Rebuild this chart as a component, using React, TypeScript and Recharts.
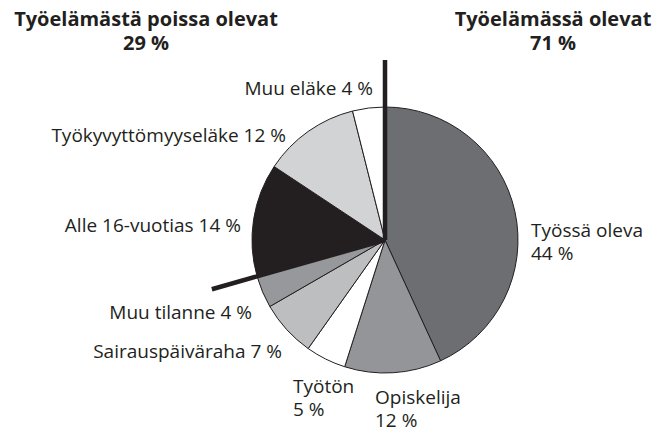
import { PieChart, Pie, Cell } from 'recharts';

const categories = ['Työssä oleva', 'Opiskelija', 'Työtön', 'Sairauspäiväraha', 'Muu tilanne', 'Alle 16-vuotias', 'Työkyvyttömyyseläke', 'Muu eläke'];
const shares = [44, 12, 5, 7, 4, 14, 12, 4];
const groupTitles = ['Työelämästä poissa olevat', 'Työelämässä olevat'];
const groupShares = [29, 71];
const workingSlices = 5; // first five slices = in working life

const fills = ['#6d6e71', '#939598', '#ffffff', '#bcbec0', '#97989b', '#231f20', '#d1d3d4', '#ffffff'];

// label placement relative to pie centre
const labelLayout = [
  { dx: 146, dy: -10, anchor: 'start', split: true },
  { dx: -10, dy: 157, anchor: 'start', split: true },
  { dx: -92, dy: 146, anchor: 'start', split: true },
  { dx: -103, dy: 111, anchor: 'end', split: false },
  { dx: -133, dy: 72, anchor: 'end', split: false },
  { dx: -144, dy: -15, anchor: 'end', split: false },
  { dx: -99, dy: -105, anchor: 'end', split: false },
  { dx: -12, dy: -152, anchor: 'end', split: false },
];

const data = categories.map((name, i) => ({ name, value: shares[i] }));

const W = 657;
const H = 433;
const CX = 385;
const CY = 240;
const R = 133;
const INK = '#231f20';
const FONT = '"Open Sans", sans-serif';
const LABEL_SIZE = 19;

const renderLabel = (props: any) => {
  const { cx, cy, index } = props;
  const l = labelLayout[index];
  const x = cx + l.dx;
  const y = cy + l.dy;
  const common = { textAnchor: l.anchor, dominantBaseline: 'central', fill: INK, fontSize: LABEL_SIZE, fontFamily: FONT } as any;
  if (l.split) {
    return (
      <g>
        <text x={x} y={y} {...common}>{data[index].name}</text>
        <text x={x} y={y + 23} {...common}>{data[index].value} %</text>
      </g>
    );
  }
  return (
    <text x={x} y={y} {...common}>
      {data[index].name} {data[index].value} %
    </text>
  );
};

export default function App() {
  const total = shares.reduce((a, b) => a + b, 0);
  const splitAt = shares.slice(0, workingSlices).reduce((a, b) => a + b, 0);
  // divider angles measured clockwise from the top
  const dividers = [0, (splitAt / total) * 360];
  const lineLen = 180;

  return (
    <div style={{ position: 'absolute', left: 0, top: 0, width: W, height: H, background: '#fff' }}>
      <PieChart width={W} height={H} margin={{ top: 0, right: 0, bottom: 0, left: 0 }}>
        <Pie
          data={data}
          dataKey="value"
          nameKey="name"
          cx={CX}
          cy={CY}
          outerRadius={R}
          startAngle={90}
          endAngle={-270}
          stroke={INK}
          strokeWidth={1}
          label={renderLabel}
          labelLine={false}
          isAnimationActive={false}
        >
          {data.map((d, i) => (
            <Cell key={d.name} fill={fills[i]} />
          ))}
        </Pie>
      </PieChart>
      <svg width={W} height={H} style={{ position: 'absolute', left: 0, top: 0, pointerEvents: 'none' }}>
        {dividers.map((a, i) => {
          const rad = (a * Math.PI) / 180;
          return (
            <line
              key={i}
              x1={CX}
              y1={CY}
              x2={CX + lineLen * Math.sin(rad)}
              y2={CY - lineLen * Math.cos(rad)}
              stroke={INK}
              strokeWidth={4.5}
            />
          );
        })}
        {groupTitles.map((t, i) => {
          const x = i === 0 ? 146 : 553;
          return (
            <g key={t}>
              <text x={x} y={18} textAnchor="middle" dominantBaseline="central" fill={INK} fontSize={20} fontWeight="bold" fontFamily={FONT}>
                {t}
              </text>
              <text x={x} y={42} textAnchor="middle" dominantBaseline="central" fill={INK} fontSize={20} fontWeight="bold" fontFamily={FONT}>
                {groupShares[i]} %
              </text>
            </g>
          );
        })}
      </svg>
    </div>
  );
}
